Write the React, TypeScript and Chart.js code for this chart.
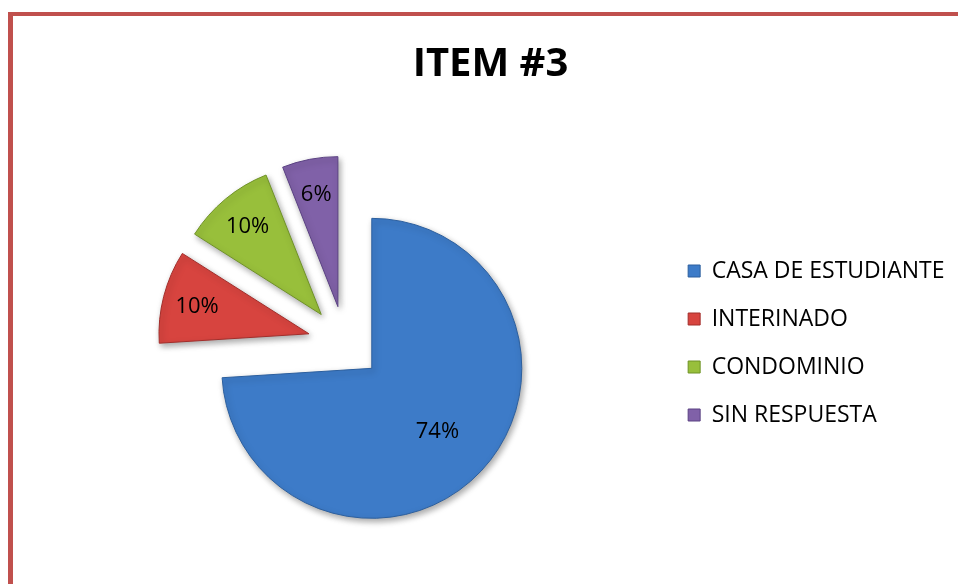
import React, { useEffect, useRef } from "react";
import { Chart, registerables } from "chart.js";

Chart.register(...registerables);

const chartTitle = "ITEM #3";
const categories = ["CASA DE ESTUDIANTE", "INTERINADO", "CONDOMINIO", "SIN RESPUESTA"];
const percentages = [74, 10, 10, 6];
const sliceColors = ["#3D7BC8", "#D7443F", "#98BF3B", "#8061A8"];
const sliceBorders = ["#2C5F9E", "#A22E2B", "#6F9226", "#5B4283"];

const FONT = "'Open Sans', sans-serif";
const EXPLODE = 37;

// Pulls every slice away from the pie centre along its own mid-angle.
const explodePlugin = {
  id: "explode",
  beforeDatasetsDraw(chart: any) {
    const meta = chart.getDatasetMeta(0);
    const { left, right, top, bottom } = chart.chartArea;
    const cx = (left + right) / 2;
    const cy = (top + bottom) / 2;
    meta.data.forEach((arc: any) => {
      const mid = (arc.startAngle + arc.endAngle) / 2;
      arc.x = cx + Math.cos(mid) * EXPLODE;
      arc.y = cy + Math.sin(mid) * EXPLODE;
    });
    const ctx = chart.ctx;
    ctx.save();
    ctx.shadowColor = "rgba(0,0,0,0.35)";
    ctx.shadowBlur = 6;
    ctx.shadowOffsetX = 2;
    ctx.shadowOffsetY = 3;
  },
  afterDatasetsDraw(chart: any) {
    chart.ctx.restore();
  },
};

const labelPlugin = {
  id: "sliceLabels",
  afterDatasetsDraw(chart: any) {
    const ctx = chart.ctx;
    const meta = chart.getDatasetMeta(0);
    ctx.save();
    ctx.font = `22px ${FONT}`;
    ctx.fillStyle = "#000";
    ctx.textAlign = "center";
    ctx.textBaseline = "alphabetic";
    meta.data.forEach((arc: any, i: number) => {
      const text = percentages[i] + "%";
      const m = ctx.measureText(text);
      const mid = (arc.startAngle + arc.endAngle) / 2;
      const frac = percentages[i] > 50 ? 0.6 : 0.77;
      const d = frac * arc.outerRadius;
      const x = arc.x + Math.cos(mid) * d;
      const y = arc.y + Math.sin(mid) * d;
      const shift = (m.actualBoundingBoxAscent - m.actualBoundingBoxDescent) / 2;
      ctx.fillText(text, x, y + shift);
    });
    ctx.restore();
  },
};

export default function App() {
  const ref = useRef<HTMLCanvasElement>(null);
  useEffect(() => {
    if (!ref.current) return;
    const chart = new Chart(ref.current, {
      type: "pie",
      data: {
        labels: categories,
        datasets: [
          {
            data: percentages,
            backgroundColor: sliceColors,
            borderColor: sliceBorders,
            borderWidth: 1,
            radius: 150,
          } as any,
        ],
      },
      options: {
        animation: false,
        responsive: false,
        devicePixelRatio: 1,
        layout: { padding: { left: 26.5, right: 3.5, top: 0, bottom: 0 } },
        plugins: {
          title: {
            display: true,
            text: chartTitle,
            color: "#000",
            font: { family: FONT, size: 40, weight: "bold" },
            padding: { top: 41, bottom: 13 },
          },
          legend: {
            position: "right",
            fullSize: false,
            labels: {
              boxWidth: 12,
              boxHeight: 12,
              padding: 25,
              color: "#000",
              font: { family: FONT, size: 23 },
            },
          },
          tooltip: { enabled: false },
        },
      } as any,
      plugins: [explodePlugin, labelPlugin],
    });
    return () => chart.destroy();
  }, []);

  return (
    <div style={{ position: "absolute", left: 0, top: 0, width: 958, height: 584, overflow: "hidden", background: "#fff" }}>
      <canvas ref={ref} width={958} height={584} style={{ position: "absolute", left: 0, top: 0, width: 958, height: 584 }} />
      <div
        style={{
          position: "absolute",
          left: 8,
          top: 12,
          width: 950,
          height: 572,
          boxSizing: "border-box",
          borderLeft: "5px solid #C0504D",
          borderTop: "4px solid #C0504D",
          pointerEvents: "none",
        }}
      />
    </div>
  );
}
